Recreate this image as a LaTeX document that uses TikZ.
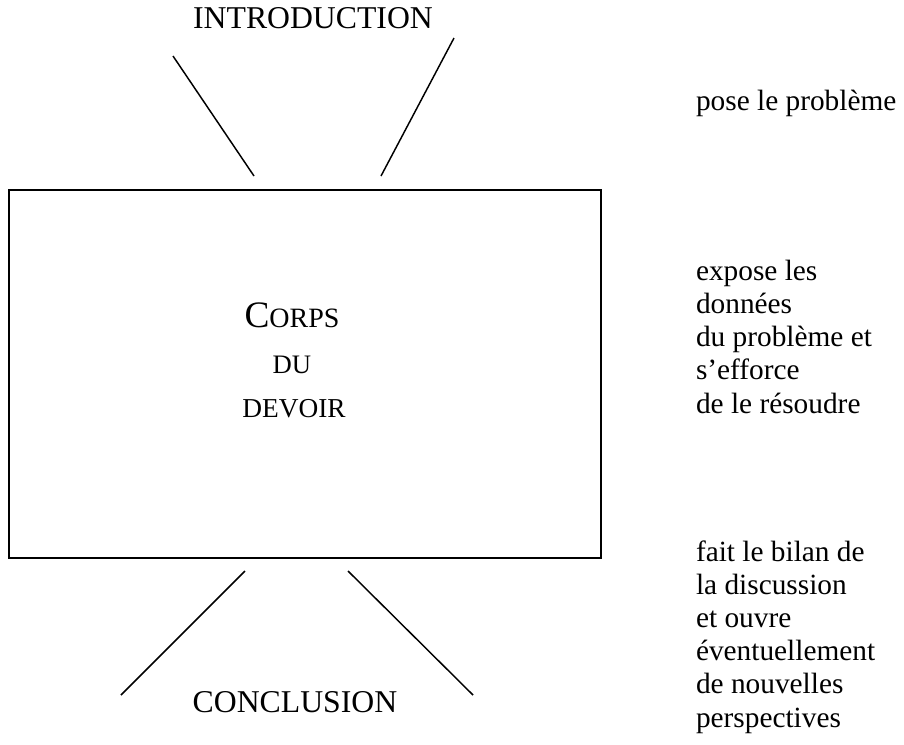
\documentclass[tikz,border=0pt]{standalone}
\usepackage{fontspec}
\setmainfont{Liberation Serif}
\begin{document}
\begin{tikzpicture}[x=0.75pt,y=-0.75pt,
  lbl/.style={inner sep=0pt, outer sep=0pt, font=\fontsize{23.8}{27}\selectfont},
  side/.style={inner sep=0pt, outer sep=0pt, align=left, font=\fontsize{22}{24.8}\selectfont},
  bar/.style={line width=1.1pt},
  frame/.style={draw, line width=1.5pt, inner sep=0pt}]
\useasboundingbox (0,0) rectangle (904,744);
% main box
\node[frame, minimum width=592*0.75pt, minimum height=368*0.75pt, anchor=north west] (corps) at (8,189) {};
\node[lbl, anchor=base] (t1) at (292,327) {{\fontsize{28}{30}\selectfont C}{\fontsize{21}{24}\selectfont ORPS}};
\node[lbl, anchor=base] (t2) at (292,373) {\fontsize{20}{24}\selectfont DU};
\node[lbl, anchor=base] (t3) at (294,417) {\fontsize{20.5}{24}\selectfont DEVOIR};
% titles
\node[lbl, anchor=base] (intro) at (313,28) {INTRODUCTION};
\node[lbl, anchor=base] (concl) at (295,712) {CONCLUSION};
% connector strokes
\coordinate (a1) at (173,56);  \coordinate (a2) at (254,176);
\coordinate (b1) at (454,38);  \coordinate (b2) at (381,176);
\coordinate (c1) at (245,571); \coordinate (c2) at (121,695);
\coordinate (d1) at (348,571); \coordinate (d2) at (473,695);
\draw[bar] (a1) -- (a2);
\draw[bar] (b1) -- (b2);
\draw[bar] (c1) -- (c2);
\draw[bar] (d1) -- (d2);
% side texts (base anchor = baseline of last line)
\node[side, anchor=base west] (s1) at (696,110) {pose le problème};
\node[side, anchor=base west] (s2) at (696,413) {expose les\\donn\'ees\\du problème et\\s’efforce\\de le résoudre};
\node[side, anchor=base west] (s3) at (696,727) {fait le bilan de\\la discussion\\et ouvre\\éventuellement\\de nouvelles\\perspectives};
\end{tikzpicture}
\end{document}
